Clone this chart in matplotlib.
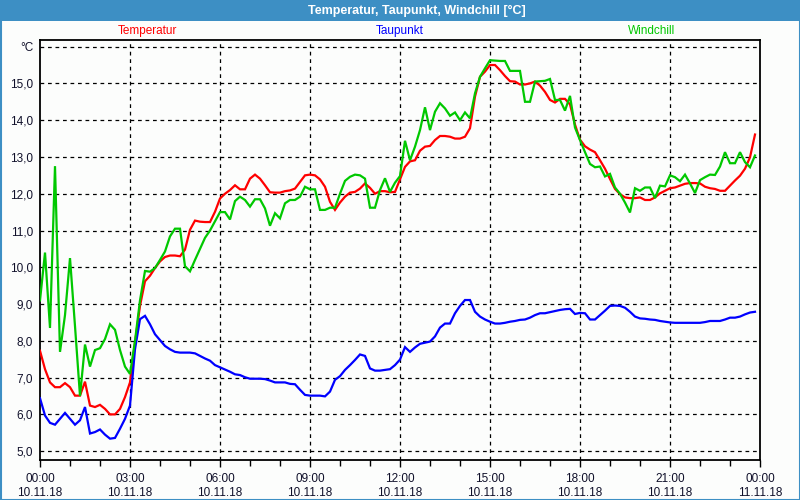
import numpy as np
import matplotlib
matplotlib.use("Agg")
import matplotlib.pyplot as plt
from matplotlib.patches import Rectangle

plt.rcParams['font.family'] = ['Liberation Sans', 'DejaVu Sans']

# ---------------- data (10-minute samples, 10.11.18 00:00 onwards) ----------------
step_hours = 1 / 6

temperatur = [
    7.73, 7.23, 6.87, 6.74, 6.74, 6.85, 6.74, 6.51, 6.51, 6.89,
    6.24, 6.20, 6.26, 6.15, 6.00, 6.00, 6.15, 6.47, 6.87, 7.95,
    8.95, 9.62, 9.77, 9.98, 10.16, 10.28, 10.32, 10.32, 10.30, 10.48,
    11.02, 11.27, 11.24, 11.23, 11.23, 11.51, 11.87, 12.00, 12.10, 12.23,
    12.12, 12.12, 12.41, 12.52, 12.41, 12.23, 12.04, 12.03, 12.03, 12.07,
    12.09, 12.14, 12.32, 12.50, 12.52, 12.50, 12.39, 12.19, 11.78, 11.56,
    11.76, 11.92, 12.03, 12.05, 12.14, 12.28, 12.16, 12.00, 12.07, 12.07,
    12.04, 12.05, 12.39, 12.73, 12.88, 12.91, 13.17, 13.28, 13.30, 13.46,
    13.57, 13.57, 13.55, 13.50, 13.50, 13.55, 13.78, 14.64, 15.18, 15.32,
    15.50, 15.50, 15.36, 15.20, 15.06, 15.05, 14.97, 14.97, 15.00, 15.05,
    14.94, 14.77, 14.55, 14.48, 14.58, 14.58, 14.43, 13.88, 13.47, 13.29,
    13.20, 13.13, 12.91, 12.68, 12.40, 12.13, 11.99, 11.90, 11.88, 11.88,
    11.90, 11.83, 11.83, 11.90, 12.01, 12.08, 12.15, 12.17, 12.22, 12.27,
    12.29, 12.29, 12.28, 12.19, 12.15, 12.13, 12.08, 12.08, 12.22, 12.36,
    12.49, 12.68, 12.99, 13.61,
]

taupunkt = [
    6.44, 5.97, 5.77, 5.72, 5.88, 6.04, 5.88, 5.72, 5.84, 6.20,
    5.48, 5.52, 5.59, 5.45, 5.34, 5.36, 5.61, 5.88, 6.24, 7.77,
    8.59, 8.68, 8.45, 8.18, 8.02, 7.86, 7.77, 7.70, 7.68, 7.68,
    7.68, 7.66, 7.59, 7.52, 7.46, 7.34, 7.28, 7.22, 7.16, 7.09,
    7.07, 7.01, 6.97, 6.97, 6.97, 6.96, 6.92, 6.87, 6.87, 6.87,
    6.83, 6.82, 6.67, 6.53, 6.51, 6.51, 6.51, 6.49, 6.62, 6.94,
    7.04, 7.21, 7.34, 7.48, 7.63, 7.59, 7.25, 7.19, 7.19, 7.21,
    7.23, 7.34, 7.49, 7.83, 7.70, 7.82, 7.92, 7.95, 7.98, 8.12,
    8.36, 8.47, 8.47, 8.75, 8.95, 9.11, 9.11, 8.79, 8.66, 8.58,
    8.52, 8.47, 8.47, 8.49, 8.52, 8.54, 8.57, 8.58, 8.63, 8.70,
    8.75, 8.75, 8.78, 8.81, 8.84, 8.86, 8.87, 8.73, 8.76, 8.75,
    8.58, 8.58, 8.70, 8.82, 8.95, 8.96, 8.95, 8.90, 8.79, 8.66,
    8.61, 8.60, 8.58, 8.57, 8.54, 8.52, 8.50, 8.49, 8.49, 8.49,
    8.49, 8.49, 8.49, 8.51, 8.54, 8.54, 8.54, 8.58, 8.63, 8.63,
    8.66, 8.72, 8.77, 8.79,
]

windchill = [
    9.10, 10.40, 8.35, 12.75, 7.70, 8.70, 10.25, 8.40, 6.50, 7.90,
    7.30, 7.75, 7.80, 8.05, 8.45, 8.30, 7.75, 7.30, 7.10, 8.00,
    9.10, 9.90, 9.88, 9.98, 10.20, 10.43, 10.84, 11.05, 11.05, 10.03,
    9.89, 10.20, 10.50, 10.80, 11.00, 11.25, 11.50, 11.50, 11.30, 11.80,
    11.92, 11.83, 11.65, 11.85, 11.85, 11.60, 11.13, 11.47, 11.33, 11.74,
    11.83, 11.83, 11.92, 12.19, 12.12, 12.12, 11.56, 11.56, 11.62, 11.62,
    12.00, 12.35, 12.46, 12.52, 12.50, 12.41, 11.62, 11.62, 12.10, 12.42,
    12.05, 12.30, 12.48, 13.44, 12.91, 13.28, 13.73, 14.35, 13.73, 14.23,
    14.46, 14.32, 14.12, 14.21, 14.00, 14.21, 14.05, 14.73, 15.18, 15.41,
    15.63, 15.62, 15.61, 15.61, 15.34, 15.34, 15.34, 14.50, 14.50, 15.05,
    15.06, 15.07, 15.12, 14.55, 14.55, 14.26, 14.66, 13.80, 13.46, 13.13,
    12.81, 12.72, 12.74, 12.47, 12.54, 12.17, 12.00, 11.76, 11.49, 12.15,
    12.08, 12.17, 12.17, 11.88, 12.22, 12.20, 12.50, 12.45, 12.34, 12.52,
    12.28, 12.02, 12.37, 12.45, 12.52, 12.51, 12.74, 13.13, 12.83, 12.83,
    13.13, 12.86, 12.72, 13.04,
]

series_names = ["Temperatur", "Taupunkt", "Windchill"]
series_colors = ["#ff0000", "#0000ff", "#00c800"]

x_tick_hours = [0, 3, 6, 9, 12, 15, 18, 21, 24]
x_tick_labels = ["00:00\n10.11.18", "03:00\n10.11.18", "06:00\n10.11.18",
                 "09:00\n10.11.18", "12:00\n10.11.18", "15:00\n10.11.18",
                 "18:00\n10.11.18", "21:00\n10.11.18", "00:00\n11.11.18"]
y_tick_values = [5, 6, 7, 8, 9, 10, 11, 12, 13, 14, 15, 16]
y_tick_labels = ["5,0", "6,0", "7,0", "8,0", "9,0", "10,0", "11,0", "12,0",
                 "13,0", "14,0", "15,0", "°C"]

title = "Temperatur, Taupunkt, Windchill [°C]"

# ---------------- figure ----------------
W, H = 800, 500
fig = plt.figure(figsize=(8, 5), dpi=100, facecolor="#fcfdfc")

# title bar
fig.patches.append(Rectangle((0, 1 - 21 / H), 1, 21 / H, transform=fig.transFigure,
                             facecolor="#3d8fc4", edgecolor="none", zorder=0))
# outer border
fig.patches.append(Rectangle((0.5 / W, 0.5 / H), 1 - 1 / W, 1 - 1 / H, transform=fig.transFigure,
                             facecolor="none", edgecolor="#3d8fc4", linewidth=1.5, zorder=5))
fig.text(417 / W, 1 - 10.5 / H, title, color="white", fontsize=9, fontweight="bold",
         ha="center", va="center")

ax = fig.add_axes([40 / W, 40 / H, 720 / W, 420 / H])
ax.set_facecolor("#fcfdfc")

t = np.arange(len(temperatur)) * step_hours
for vals, col in zip([temperatur, taupunkt, windchill], series_colors):
    ax.plot(t[:len(vals)], vals, color=col, linewidth=1.6, solid_joinstyle="miter", zorder=3)

ax.set_xlim(0, 24)
ax.set_ylim(4.76, 16.18)

ax.set_xticks(x_tick_hours)
ax.set_xticklabels(x_tick_labels, fontsize=8.5, color="#10102a", linespacing=1.25)
ax.set_xticks(np.arange(0, 25, 1), minor=True)
ax.tick_params(axis="x", which="major", length=5, width=1, color="black", pad=4)
ax.tick_params(axis="x", which="minor", length=4, width=1, color="black")

ax.set_yticks(y_tick_values)
ax.set_yticklabels(y_tick_labels, fontsize=8.5, color="#10102a")
ax.tick_params(axis="y", length=0, pad=5)

# grid
for yv in y_tick_values:
    ax.axhline(yv, color="black", linestyle=(0, (3, 3)), linewidth=0.9, zorder=1)
for xv in x_tick_hours[1:-1]:
    ax.axvline(xv, color="black", linestyle=(0, (3, 3)), linewidth=0.9, zorder=1)

for sp in ax.spines.values():
    sp.set_color("black")
    sp.set_linewidth(1.3)

# legend-like labels above plot
for name, col, xf in zip(series_names, series_colors, [0.149, 0.5, 0.849]):
    ax.text(xf, 1 + 9 / 420, name, transform=ax.transAxes, color=col, fontsize=8.5,
            ha="center", va="center")

fig.savefig("out.png", dpi=100, facecolor=fig.get_facecolor())
